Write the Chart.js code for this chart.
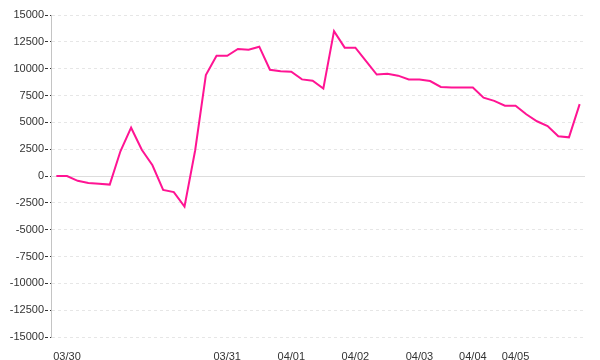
<!DOCTYPE html>
<html>
<head>
<meta charset="utf-8">
<script src="https://cdn.jsdelivr.net/npm/chart.js@4"></script>
<style>
html,body{margin:0;padding:0;background:#fff;}
#wrap{width:600px;height:360px;}
</style>
</head>
<body>
<div id="wrap"><canvas id="c" width="600" height="360"></canvas></div>
<script>
const categories = ['', '03/30', '', '', '', '', '', '', '', '', '', '', '', '', '', '', '03/31', '', '', '', '', '', '04/01', '', '', '', '', '', '04/02', '', '', '', '', '', '04/03', '', '', '', '', '04/04', '', '', '', '04/05', '', '', '', '', '', ''];
const values = [0, 0, -450, -650, -720, -800, 2300, 4500, 2450, 1000, -1300, -1500, -2850, 2400, 9400, 11200, 11200, 11830, 11770, 12050, 9900, 9750, 9720, 9000, 8880, 8150, 13500, 11960, 11960, 10700, 9450, 9520, 9350, 9000, 9000, 8850, 8300, 8250, 8250, 8250, 7300, 7000, 6550, 6550, 5750, 5100, 4650, 3700, 3600, 6700];
const yMin = -15000, yMax = 15000, yStep = 2500;

const axisLines = {
  id: 'axisLines',
  beforeDatasetsDraw(chart) {
    const y = chart.scales.y.getPixelForValue(0);
    const a = chart.chartArea;
    const ctx = chart.ctx;
    ctx.save();
    ctx.fillStyle = '#dddddd';
    ctx.fillRect(a.left, Math.round(y), a.right - a.left, 1);
    ctx.restore();
  }
};

new Chart(document.getElementById('c'), {
  type: 'line',
  data: {
    labels: categories,
    datasets: [{
      data: values,
      borderColor: '#ff1493',
      borderWidth: 2,
      pointRadius: 0,
      tension: 0,
      fill: false
    }]
  },
  options: {
    responsive: false,
    animation: false,
    devicePixelRatio: 1,
    layout: { padding: { left: 0, right: 15, top: 15, bottom: 0 } },
    plugins: { legend: { display: false }, tooltip: { enabled: false } },
    scales: {
      x: {
        offset: true,
        grid: { display: false },
        border: { display: false },
        ticks: {
          autoSkip: false,
          maxRotation: 0,
          minRotation: 0,
          padding: 5,
          color: '#333333',
          font: { family: 'Liberation Sans', size: 11 }
        },
        afterFit(s) { s.height = 23; }
      },
      y: {
        min: yMin,
        max: yMax,
        grid: {
          color: '#e6e6e6',
          lineWidth: 1,
          drawTicks: true,
          tickLength: 6,
          tickColor: '#333333',
          tickBorderDash: [3, 2]
        },
        border: { display: true, color: '#c4c4c4', width: 1, dash: [3, 3] },
        ticks: {
          stepSize: yStep,
          padding: 1,
          color: '#333333',
          font: { family: 'Liberation Sans', size: 11 },
          callback: (v) => String(v)
        },
        afterFit(s) { s.width = 51; }
      }
    }
  },
  plugins: [axisLines]
});
</script>
</body>
</html>
